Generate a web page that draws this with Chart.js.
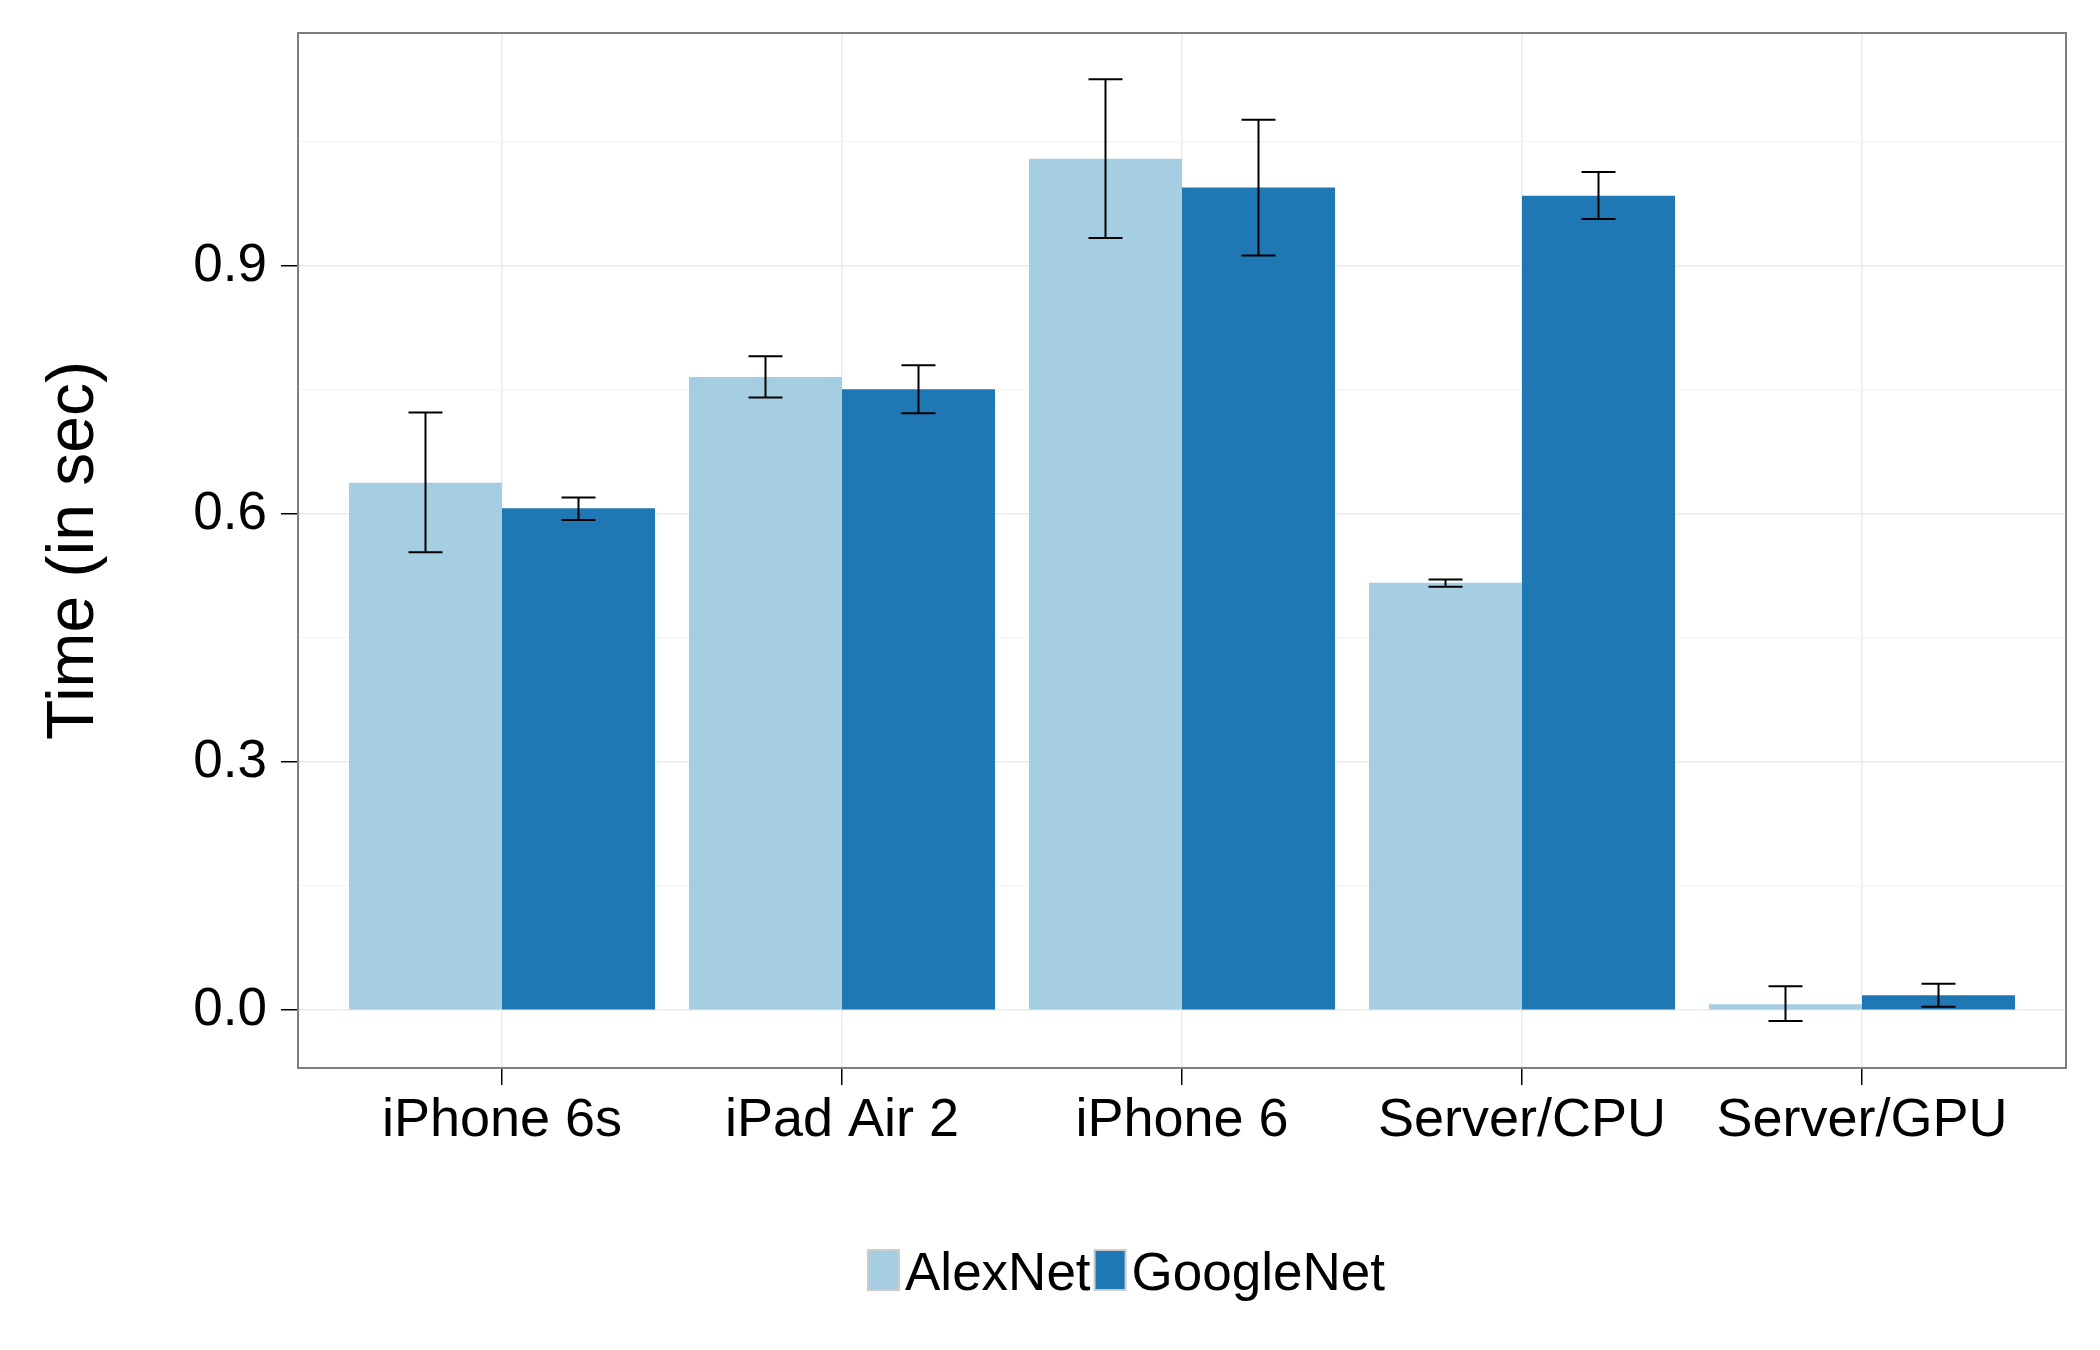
<!DOCTYPE html>
<html>
<head>
<meta charset="utf-8">
<script src="https://cdn.jsdelivr.net/npm/chart.js@4/dist/chart.umd.min.js"></script>
<style>
  html, body { margin: 0; padding: 0; background: #fff; }
</style>
</head>
<body>
<canvas id="myChart" width="2100" height="1350"></canvas>
<script>
const categories = ['iPhone 6s', 'iPad Air 2', 'iPhone 6', 'Server/CPU', 'Server/GPU'];
const alexnetTime = [0.638, 0.766, 1.030, 0.517, 0.007];
const alexnetLow = [0.554, 0.741, 0.934, 0.512, -0.013];
const alexnetHigh = [0.723, 0.791, 1.126, 0.521, 0.029];
const googlenetTime = [0.607, 0.751, 0.995, 0.985, 0.018];
const googlenetLow = [0.593, 0.722, 0.913, 0.957, 0.004];
const googlenetHigh = [0.620, 0.780, 1.077, 1.014, 0.032];
const yTicks = [0, 0.3, 0.6, 0.9];
const yTickLabels = ['0.0', '0.3', '0.6', '0.9'];
const yMinorTicks = [0.15, 0.45, 0.75, 1.05];

const FONT = '"Liberation Sans", Arial, Helvetica, sans-serif';
Chart.defaults.font.family = FONT;
Chart.defaults.color = '#000';

// error bars drawn over the bars, using the bar x and the y scale
const errorBars = {
    id: 'errorBars',
    afterDatasetsDraw(chart) {
        const ctx = chart.ctx;
        const y = chart.scales.y;
        ctx.save();
        ctx.strokeStyle = '#000';
        ctx.lineWidth = 2;
        chart.data.datasets.forEach((ds, di) => {
            chart.getDatasetMeta(di).data.forEach((bar, i) => {
                const top = y.getPixelForValue(ds.errHigh[i]);
                const bot = y.getPixelForValue(ds.errLow[i]);
                const hw = 17;
                ctx.beginPath();
                ctx.moveTo(bar.x, top); ctx.lineTo(bar.x, bot);
                ctx.moveTo(bar.x - hw, top); ctx.lineTo(bar.x + hw, top);
                ctx.moveTo(bar.x - hw, bot); ctx.lineTo(bar.x + hw, bot);
                ctx.stroke();
            });
        });
        ctx.restore();
    }
};

// grey panel border + ggplot-like legend at the bottom
const panelAndLegend = {
    id: 'panelAndLegend',
    afterDraw(chart) {
        const ctx = chart.ctx;
        const a = chart.chartArea;
        ctx.save();
        ctx.strokeStyle = '#7f7f7f';
        ctx.lineWidth = 2;
        ctx.strokeRect(a.left, a.top, a.right - a.left, a.bottom - a.top);

        ctx.font = '53px ' + FONT;
        ctx.textBaseline = 'alphabetic';
        let x = 868;
        const boxTop = 1250, boxW = 31, boxH = 40;
        chart.data.datasets.forEach(ds => {
            ctx.fillStyle = ds.backgroundColor;
            ctx.fillRect(x, boxTop, boxW, boxH);
            ctx.strokeStyle = '#cccccc';
            ctx.lineWidth = 2;
            ctx.strokeRect(x, boxTop, boxW, boxH);
            x += boxW + 6;
            ctx.fillStyle = '#000';
            ctx.fillText(ds.label, x, boxTop + boxH);
            x += ctx.measureText(ds.label).width + 4;
        });
        ctx.restore();
    }
};

const ctx = document.getElementById('myChart').getContext('2d');
const myChart = new Chart(ctx, {
    type: 'bar',
    data: {
        datasets: [{
            label: 'AlexNet',
            data: alexnetTime.map((v, i) => ({ x: i, y: v })),
            errLow: alexnetLow,
            errHigh: alexnetHigh,
            backgroundColor: '#a6cee3'
        }, {
            label: 'GoogleNet',
            data: googlenetTime.map((v, i) => ({ x: i, y: v })),
            errLow: googlenetLow,
            errHigh: googlenetHigh,
            backgroundColor: '#1f78b4'
        }]
    },
    options: {
        responsive: false,
        animation: false,
        devicePixelRatio: 1,
        categoryPercentage: 0.9,
        barPercentage: 1.0,
        layout: { padding: { left: 0, top: 33, right: 34, bottom: 0 } },
        plugins: {
            legend: { display: false },
            tooltip: { enabled: false }
        },
        scales: {
            x: {
                type: 'linear',
                min: -0.6,
                max: 4.6,
                offset: false,
                afterBuildTicks: s => { s.ticks = categories.map((_, i) => ({ value: i })); },
                afterFit: s => { s.height = 282; },
                ticks: {
                    autoSkip: false,
                    maxRotation: 0,
                    padding: 4,
                    font: { size: 54 },
                    color: '#000',
                    callback: v => categories[v]
                },
                grid: {
                    offset: false,
                    color: '#ebebeb',
                    lineWidth: 1.5,
                    tickLength: 17,
                    tickColor: '#000',
                    tickWidth: 1.5
                },
                border: { display: false }
            },
            y: {
                min: -0.07,
                max: 1.182,
                afterBuildTicks: s => {
                    s.ticks = [...yTicks, ...yMinorTicks].sort((a, b) => a - b).map(v => ({ value: v }));
                },
                afterFit: s => { s.width = 298; s.paddingTop = 0; s.paddingBottom = 0; },
                ticks: {
                    autoSkip: false,
                    padding: 14,
                    font: { size: 53 },
                    color: '#000',
                    callback: v => {
                        const i = yTicks.indexOf(v);
                        return i >= 0 ? yTickLabels[i] : '';
                    }
                },
                grid: {
                    color: c => yMinorTicks.includes(c.tick.value) ? '#f5f5f5' : '#ebebeb',
                    lineWidth: 1.5,
                    tickLength: 17,
                    tickColor: c => yMinorTicks.includes(c.tick.value) ? 'rgba(0,0,0,0)' : '#000',
                    tickWidth: 1.5
                },
                border: { display: false },
                title: {
                    display: true,
                    text: 'Time (in sec)',
                    font: { size: 66 },
                    color: '#000',
                    padding: { top: 35, bottom: 0 }
                }
            }
        }
    },
    plugins: [errorBars, panelAndLegend]
});
</script>
</body>
</html>
